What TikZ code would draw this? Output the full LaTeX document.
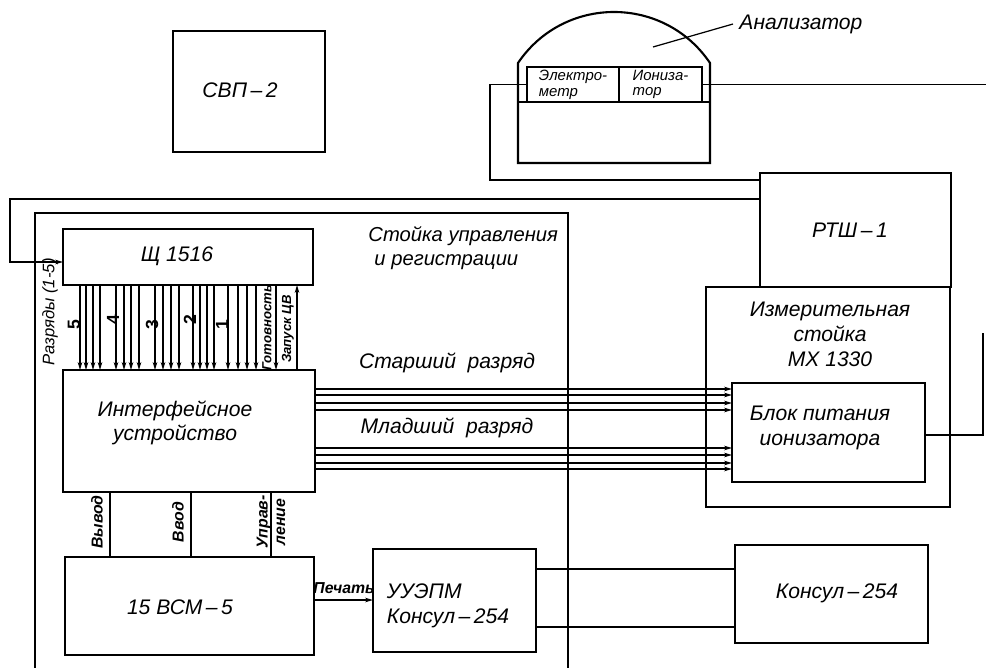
\documentclass[tikz,border=0pt]{standalone}
\usepackage{fontspec}
\setmainfont{Liberation Sans}
\usetikzlibrary{arrows.meta}
\begin{document}
\begin{tikzpicture}[x=0.2mm, y=-0.2mm,
  >={Stealth[length=4.5pt,width=2.6pt]},
  every path/.style={line width=0.7pt},
  blok/.style={draw, line width=1.2pt, inner sep=0pt, outer sep=0pt},
  lbl/.style={font=\fontsize{12}{14}\selectfont\itshape, align=center},
  small/.style={font=\fontsize{8.5}{9}\selectfont\itshape, align=left, inner sep=1pt},
  vlbl/.style={font=\fontsize{9}{10}\selectfont\itshape\bfseries, rotate=90, inner sep=1pt, align=center}]
\useasboundingbox (0,0) rectangle (986,668);
% blocks
\node[blok, minimum width=30.4mm, minimum height=24.2mm] (svp) at (249,91.5) {};
\node[lbl] at (240,90) {СВП\,–\,2};
\node[blok, minimum width=38.2mm, minimum height=22.8mm] (rtsh) at (855.5,230) {};
\node[lbl] at (850,230) {РТШ\,–\,1};
\node[blok, minimum width=48.8mm, minimum height=44mm] (mx) at (828,397) {};
\node[lbl, anchor=north] at (830,296) {Измерительная\\стойка\\МХ 1330};
\node[blok, minimum width=38.6mm, minimum height=19.8mm] (bp) at (828.5,432.5) {};
\node[lbl] at (820,428) {Блок питания\\ионизатора};
\node[blok, minimum width=38.6mm, minimum height=19.6mm] (konsul) at (831.5,594) {};
\node[lbl] at (837,593) {Консул\,–\,254};
\node[blok, minimum width=32.6mm, minimum height=20.6mm] (uuepm) at (454.5,600.5) {};
\node[lbl, align=left] at (448,606) {УУЭПМ\\Консул\,–\,254};
\node[blok, minimum width=49.8mm, minimum height=19.6mm] (vsm) at (189.5,606) {};
\node[lbl] at (180,607) {15 ВСМ\,–\,5};
\node[blok, minimum width=50.4mm, minimum height=24.4mm] (iface) at (189,431) {};
\node[lbl] at (175,423) {Интерфейсное\\устройство};
\node[blok, minimum width=50mm, minimum height=11.2mm] (shch) at (188,257) {};
\node[lbl] at (177,256) {Щ 1516};

% analyzer
\draw[line width=1.2pt] (518,163) -- (518,63) .. controls (564,-5) and (664,-5) .. (710,63) -- (710,163) -- cycle;
\draw[line width=1.2pt] (518,102) -- (710,102);
\node[blok, minimum width=18.4mm, minimum height=7mm] (elm) at (573,84.5) {};
\node[small] at (573,84.5) {Электро-\\метр};
\node[blok, minimum width=16.6mm, minimum height=7mm] (ion) at (660.5,84.5) {};
\node[small] at (660.5,84.5) {Иониза-\\тор};
\node[lbl, anchor=west] (anlbl) at (733,24) {Анализатор};
\draw (653,47) -- (anlbl.west);

% stand
\draw[line width=1.2pt] (35,668) -- (35,213) -- (568,213) -- (568,668);
\node[lbl, align=left, anchor=north west, font=\fontsize{11.5}{13.5}\selectfont\itshape] at (362,220) {Стойка управления\\\hspace{1.2mm}и регистрации};

% wires
\coordinate (ionend) at (986,84.5);
\coordinate (bpend) at (983,333);
\draw (elm.west) -| (490,180) -- (rtsh.west |- 490,180);
\draw (ion.east) -- (ionend);
\draw[->] (rtsh.west |- 0,199) -| (10,262) -- (shch.west |- 0,262);
\draw (bp.east |- 0,435) -| (bpend);

% digit lines
\foreach \x in {80,86,93,100,116,124,131,139,155,163,171,179,193,200,207,214,228,238,247,256,276}
  \draw[->] (shch.south -| \x,0) -- (iface.north -| \x,0);
\draw[->] (iface.north -| 297,0) -- (shch.south -| 297,0);
\node[vlbl, font=\fontsize{9.5}{10}\selectfont\itshape] at (50,312) {Разряды (1-5)};
\foreach \x/\y/\d in {74/325/5, 113/320/4, 152/325/3, 190/320/2, 222/325/1}
  \node[vlbl, font=\fontsize{10}{10}\selectfont\bfseries] at (\x,\y) {\d};
\node[vlbl, font=\fontsize{7.5}{8}\selectfont\itshape\bfseries] at (267,328) {Готовность};
\node[vlbl, font=\fontsize{7.5}{8}\selectfont\itshape\bfseries] at (288,329) {Запуск ЦВ};

% buses
\foreach \y in {389,395,403,410,448,455,463,469}
  \draw[->] (iface.east |- 0,\y) -- (bp.west |- 0,\y);
\node[lbl] at (447,363) {Старший\ \ разряд};
\node[lbl] at (447,428) {Младший\ \ разряд};

% computer links
\foreach \x in {110,191,271}
  \draw (iface.south -| \x,0) -- (vsm.north -| \x,0);
\node[vlbl] at (97,522) {Вывод};
\node[vlbl] at (178,522) {Ввод};
\node[vlbl] at (271,522) {Управ-\\ление};
\draw[->] (vsm.east |- 0,600) -- (uuepm.west |- 0,600);
\node[vlbl, rotate=-90] at (344,588) {Печать};
\draw (uuepm.east |- 0,569) -- (konsul.west |- 0,569);
\draw (uuepm.east |- 0,627) -- (konsul.west |- 0,627);
\end{tikzpicture}
\end{document}
